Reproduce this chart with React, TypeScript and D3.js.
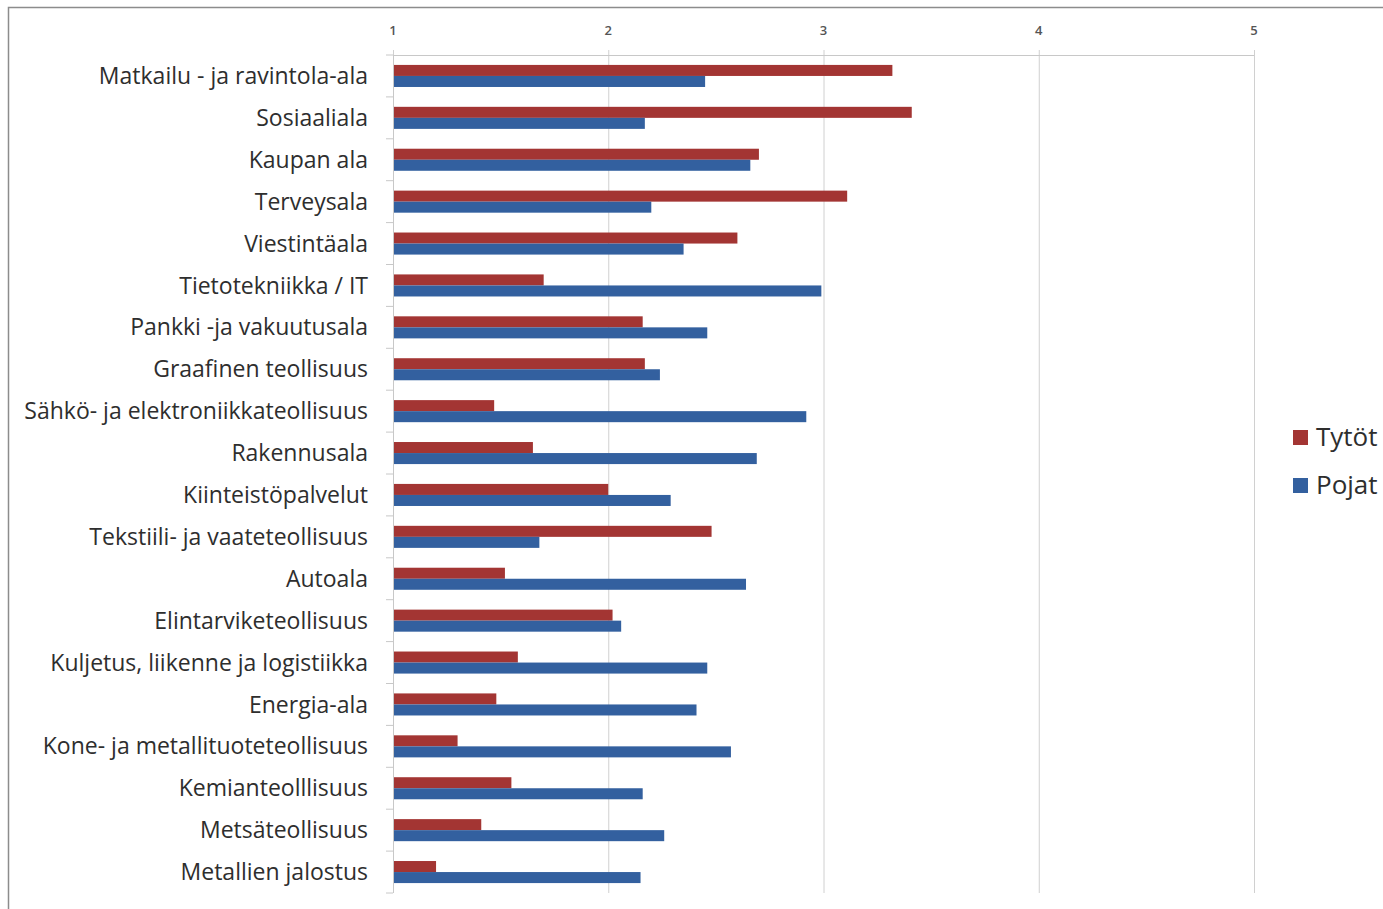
import { useEffect, useRef } from "react";
import * as d3 from "d3";

const categories = [
    "Matkailu - ja ravintola-ala",
    "Sosiaaliala",
    "Kaupan ala",
    "Terveysala",
    "Viestintäala",
    "Tietotekniikka / IT",
    "Pankki -ja vakuutusala",
    "Graafinen teollisuus",
    "Sähkö- ja elektroniikkateollisuus",
    "Rakennusala",
    "Kiinteistöpalvelut",
    "Tekstiili- ja vaateteollisuus",
    "Autoala",
    "Elintarviketeollisuus",
    "Kuljetus, liikenne ja logistiikka",
    "Energia-ala",
    "Kone- ja metallituoteteollisuus",
    "Kemianteolllisuus",
    "Metsäteollisuus",
    "Metallien jalostus",
];

const tytot = [3.32, 3.41, 2.70, 3.11, 2.60, 1.70, 2.16, 2.17, 1.47, 1.65, 2.00, 2.48, 1.52, 2.02, 1.58, 1.48, 1.30, 1.55, 1.41, 1.20];
const pojat = [2.45, 2.17, 2.66, 2.20, 2.35, 2.99, 2.46, 2.24, 2.92, 2.69, 2.29, 1.68, 2.64, 2.06, 2.46, 2.41, 2.57, 2.16, 2.26, 2.15];

const seriesNames = ["Tytöt", "Pojat"];
const seriesColors = ["#a33533", "#33609f"];
const xTicks = [1, 2, 3, 4, 5];

export default function App() {
    const svgRef = useRef<SVGSVGElement>(null);

    useEffect(() => {
        if (!svgRef.current) return;
        document.body.style.margin = "0";

        const svg = d3.select(svgRef.current);
        svg.selectAll("*").remove();

        const W = 1383, H = 909;
        const left = 393, right = 1254, top = 55, bottom = 893;
        const font = "'Open Sans', Lato, sans-serif";

        svg.attr("width", W).attr("height", H);

        // frame
        svg.append("rect").attr("width", W).attr("height", H).attr("fill", "#fff");
        svg.append("path")
            .attr("d", `M8.5,${H}V7.5H${W}`)
            .attr("fill", "none")
            .attr("stroke", "#8c8c8c")
            .attr("stroke-width", 1.5);

        const x = d3.scaleLinear().domain([1, 5]).range([left, right]);
        const y = d3.scaleBand().domain(categories).range([top, bottom]).padding(0);
        const ySub = d3.scaleBand()
            .domain(seriesNames)
            .range([0, y.bandwidth()])
            .paddingInner(0)
            .paddingOuter(0.9);

        // grid + top axis
        const grid = svg.append("g");
        xTicks.forEach(t => {
            grid.append("line")
                .attr("x1", x(t) + 0.5).attr("x2", x(t) + 0.5)
                .attr("y1", top - 5).attr("y2", bottom)
                .attr("stroke", "#d0d0d0").attr("stroke-width", 1);
            grid.append("text")
                .attr("x", x(t)).attr("y", 35)
                .attr("text-anchor", "middle")
                .attr("font-family", font)
                .attr("font-size", 13)
                .attr("font-weight", 600)
                .attr("fill", "#555")
                .text(t);
        });
        grid.append("line")
            .attr("x1", left).attr("x2", right)
            .attr("y1", top + 0.5).attr("y2", top + 0.5)
            .attr("stroke", "#c8c8c8");

        // category axis
        grid.append("line")
            .attr("x1", left + 0.5).attr("x2", left + 0.5)
            .attr("y1", top).attr("y2", bottom)
            .attr("stroke", "#c8c8c8");
        d3.range(categories.length + 1).forEach(i => {
            const yy = top + i * y.step();
            grid.append("line")
                .attr("x1", left - 7).attr("x2", left)
                .attr("y1", yy).attr("y2", yy)
                .attr("stroke", "#c8c8c8");
        });

        // bars
        const values = [tytot, pojat];
        seriesNames.forEach((s, si) => {
            svg.append("g")
                .selectAll("rect")
                .data(categories)
                .join("rect")
                .attr("x", x(1) + 1)
                .attr("y", c => y(c)! + ySub(s)!)
                .attr("width", (c, i) => x(values[si][i]) - x(1) - 1)
                .attr("height", ySub.bandwidth())
                .attr("fill", seriesColors[si]);
        });

        // category labels
        svg.append("g")
            .selectAll("text")
            .data(categories)
            .join("text")
            .attr("x", 368)
            .attr("y", c => y(c)! + y.bandwidth() / 2)
            .attr("dy", "0.35em")
            .attr("text-anchor", "end")
            .attr("font-family", font)
            .attr("font-size", 23)
            .attr("fill", "#2e2e2e")
            .text(c => c);

        // legend
        const legend = svg.append("g").attr("transform", "translate(1293,437)");
        seriesNames.forEach((s, i) => {
            const row = legend.append("g").attr("transform", `translate(0,${i * 48})`);
            row.append("rect")
                .attr("x", 0).attr("y", -7)
                .attr("width", 15).attr("height", 15)
                .attr("fill", seriesColors[i]);
            row.append("text")
                .attr("x", 23).attr("y", 0)
                .attr("dy", "0.35em")
                .attr("font-family", font)
                .attr("font-size", 26)
                .attr("fill", "#2e2e2e")
                .text(s);
        });
    }, []);

    return <svg ref={svgRef} style={{ display: "block" }}></svg>;
}
